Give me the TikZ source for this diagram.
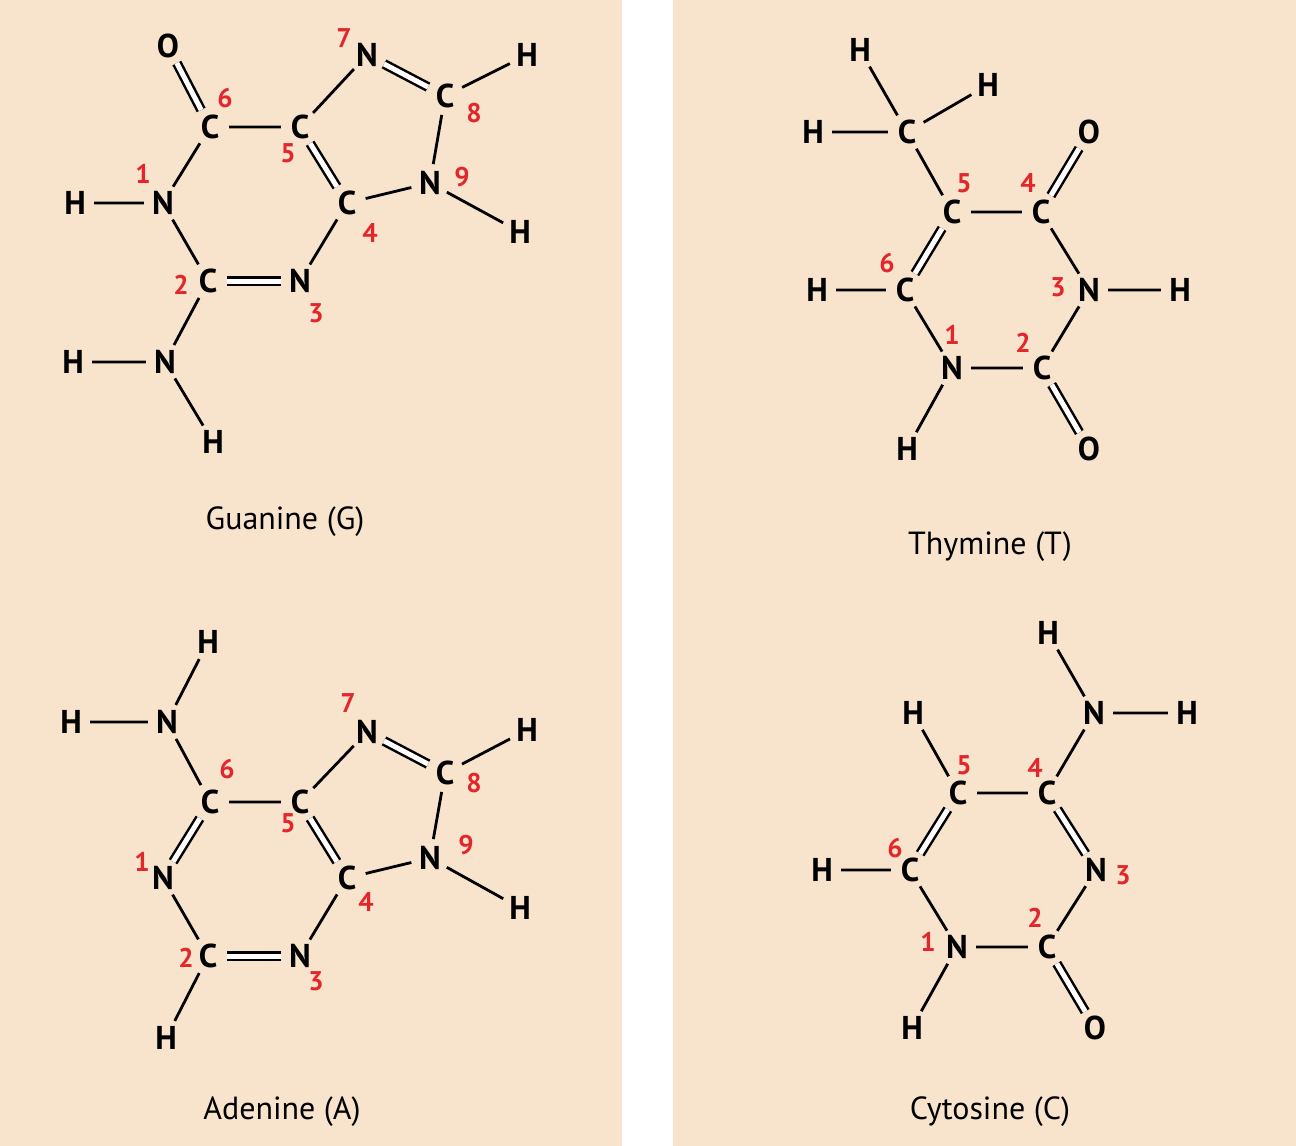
\documentclass[tikz,border=0pt]{standalone}
\usepackage{fontspec}
\setsansfont{PT Sans}
\definecolor{panelcol}{HTML}{F8E4CD}
\definecolor{numcol}{HTML}{E3262A}
\tikzset{
  atom/.style={circle,inner sep=0pt,minimum size=38pt,font=\sffamily\bfseries\fontsize{33}{33}\selectfont},
  num/.style={text=numcol,inner sep=0pt,font=\sffamily\bfseries\fontsize{27}{27}\selectfont},
  title/.style={inner sep=0pt,font=\sffamily\fontsize{32}{32}\selectfont},
  bond/.style={line width=2.8pt},
  dbond/.style={double,double distance=5pt,line width=2.5pt}
}
\begin{document}
\begin{tikzpicture}[x=1pt,y=-1pt]
\useasboundingbox (0,0) rectangle (1296,1146);
\fill[panelcol] (0,0) rectangle (622,1146);
\fill[panelcol] (673,0) rectangle (1296,1146);
% Guanine
\node[atom] (gO) at (168,46) {O};
\node[atom] (gC6) at (210,127) {C};
\node[atom] (gC5) at (300,127) {C};
\node[atom] (gN7) at (367,55) {N};
\node[atom] (gC8) at (445,96) {C};
\node[atom] (gN9) at (430,183) {N};
\node[atom] (gC4) at (347,203) {C};
\node[atom] (gN3) at (300,281) {N};
\node[atom] (gC2) at (208,281) {C};
\node[atom] (gN1) at (163,203) {N};
\node[atom] (gH1) at (75,203) {H};
\node[atom] (gN2) at (165,362) {N};
\node[atom] (gH2a) at (73,362) {H};
\node[atom] (gH2b) at (213,442) {H};
\node[atom] (gH8) at (527,55) {H};
\node[atom] (gH9) at (520,232) {H};
\draw[dbond] (gO) -- (gC6);
\draw[dbond] (gN7) -- (gC8);
\draw[dbond] (gC5) -- (gC4);
\draw[dbond] (gC2) -- (gN3);
\draw[bond] (gC6) -- (gC5) (gC5) -- (gN7) (gC8) -- (gN9) (gN9) -- (gC4)
  (gC4) -- (gN3) (gC2) -- (gN1) (gN1) -- (gC6) (gN1) -- (gH1)
  (gC2) -- (gN2) (gN2) -- (gH2a) (gN2) -- (gH2b) (gC8) -- (gH8) (gN9) -- (gH9);
\node[num] (gn6) at (225,98) {6};
\node[num] (gn5) at (288,153) {5};
\node[num] (gn7) at (344,38) {7};
\node[num] (gn8) at (474,113) {8};
\node[num] (gn9) at (462,177) {9};
\node[num] (gn4) at (370,233) {4};
\node[num] (gn3) at (316,313) {3};
\node[num] (gn2) at (181,285) {2};
\node[num] (gn1) at (143,174) {1};
\node[title] (gt) at (285,522) {Guanine (G)};
% Adenine
\node[atom] (aHa) at (208,642) {H};
\node[atom] (aHb) at (71,722) {H};
\node[atom] (aN6) at (167,722) {N};
\node[atom] (aC6) at (210,802) {C};
\node[atom] (aC5) at (300,802) {C};
\node[atom] (aN7) at (367,732) {N};
\node[atom] (aC8) at (445,773) {C};
\node[atom] (aN9) at (430,858) {N};
\node[atom] (aC4) at (347,878) {C};
\node[atom] (aN3) at (300,956) {N};
\node[atom] (aC2) at (208,956) {C};
\node[atom] (aN1) at (163,878) {N};
\node[atom] (aH2) at (166,1038) {H};
\node[atom] (aH8) at (527,730) {H};
\node[atom] (aH9) at (520,908) {H};
\draw[dbond] (aC6) -- (aN1);
\draw[dbond] (aC5) -- (aC4);
\draw[dbond] (aN7) -- (aC8);
\draw[dbond] (aC2) -- (aN3);
\draw[bond] (aHa) -- (aN6) (aHb) -- (aN6) (aN6) -- (aC6) (aC6) -- (aC5)
  (aC5) -- (aN7) (aC8) -- (aN9) (aN9) -- (aC4) (aC4) -- (aN3)
  (aC2) -- (aN1) (aC2) -- (aH2) (aC8) -- (aH8) (aN9) -- (aH9);
\node[num] (an6) at (227,769) {6};
\node[num] (an5) at (288,823) {5};
\node[num] (an7) at (348,703) {7};
\node[num] (an8) at (474,783) {8};
\node[num] (an9) at (466,845) {9};
\node[num] (an4) at (366,902) {4};
\node[num] (an3) at (316,981) {3};
\node[num] (an2) at (186,958) {2};
\node[num] (an1) at (142,862) {1};
\node[title] (at) at (282,1112) {Adenine (A)};
% Thymine
\node[atom] (tHa) at (860,50) {H};
\node[atom] (tHb) at (988,85) {H};
\node[atom] (tHc) at (813,132) {H};
\node[atom] (tCm) at (907,132) {C};
\node[atom] (tC5) at (952,212) {C};
\node[atom] (tC4) at (1041,212) {C};
\node[atom] (tO4) at (1089,132) {O};
\node[atom] (tN3) at (1089,290) {N};
\node[atom] (tH3) at (1180,290) {H};
\node[atom] (tC2) at (1042,368) {C};
\node[atom] (tO2) at (1089,449) {O};
\node[atom] (tN1) at (952,368) {N};
\node[atom] (tH1) at (907,449) {H};
\node[atom] (tC6) at (905,290) {C};
\node[atom] (tH6) at (817,290) {H};
\draw[dbond] (tC4) -- (tO4);
\draw[dbond] (tC5) -- (tC6);
\draw[dbond] (tC2) -- (tO2);
\draw[bond] (tHa) -- (tCm) (tHb) -- (tCm) (tHc) -- (tCm) (tCm) -- (tC5)
  (tC5) -- (tC4) (tC4) -- (tN3) (tN3) -- (tH3) (tN3) -- (tC2)
  (tC2) -- (tN1) (tN1) -- (tH1) (tN1) -- (tC6) (tC6) -- (tH6);
\node[num] (tn5) at (964,183) {5};
\node[num] (tn4) at (1028,183) {4};
\node[num] (tn6) at (887,263) {6};
\node[num] (tn3) at (1058,287) {3};
\node[num] (tn2) at (1023,343) {2};
\node[num] (tn1) at (952,335) {1};
\node[title] (tt) at (990,547) {Thymine (T)};
% Cytosine
\node[atom] (cHa) at (1048,633) {H};
\node[atom] (cN4) at (1094,713) {N};
\node[atom] (cHb) at (1187,713) {H};
\node[atom] (cC4) at (1047,793) {C};
\node[atom] (cC5) at (958,793) {C};
\node[atom] (cH5) at (913,713) {H};
\node[atom] (cC6) at (910,870) {C};
\node[atom] (cH6) at (822,870) {H};
\node[atom] (cN1) at (957,947) {N};
\node[atom] (cC2) at (1047,947) {C};
\node[atom] (cO2) at (1095,1028) {O};
\node[atom] (cN3) at (1096,870) {N};
\node[atom] (cH1) at (912,1028) {H};
\draw[dbond] (cC5) -- (cC6);
\draw[dbond] (cC4) -- (cN3);
\draw[dbond] (cC2) -- (cO2);
\draw[bond] (cHa) -- (cN4) (cN4) -- (cHb) (cN4) -- (cC4) (cC4) -- (cC5)
  (cC5) -- (cH5) (cC6) -- (cH6) (cC6) -- (cN1) (cN1) -- (cC2)
  (cC2) -- (cN3) (cN1) -- (cH1);
\node[num] (cn5) at (964,765) {5};
\node[num] (cn4) at (1035,768) {4};
\node[num] (cn6) at (895,848) {6};
\node[num] (cn3) at (1123,875) {3};
\node[num] (cn2) at (1035,918) {2};
\node[num] (cn1) at (928,942) {1};
\node[title] (ct) at (990,1112) {Cytosine (C)};
\end{tikzpicture}
\end{document}
